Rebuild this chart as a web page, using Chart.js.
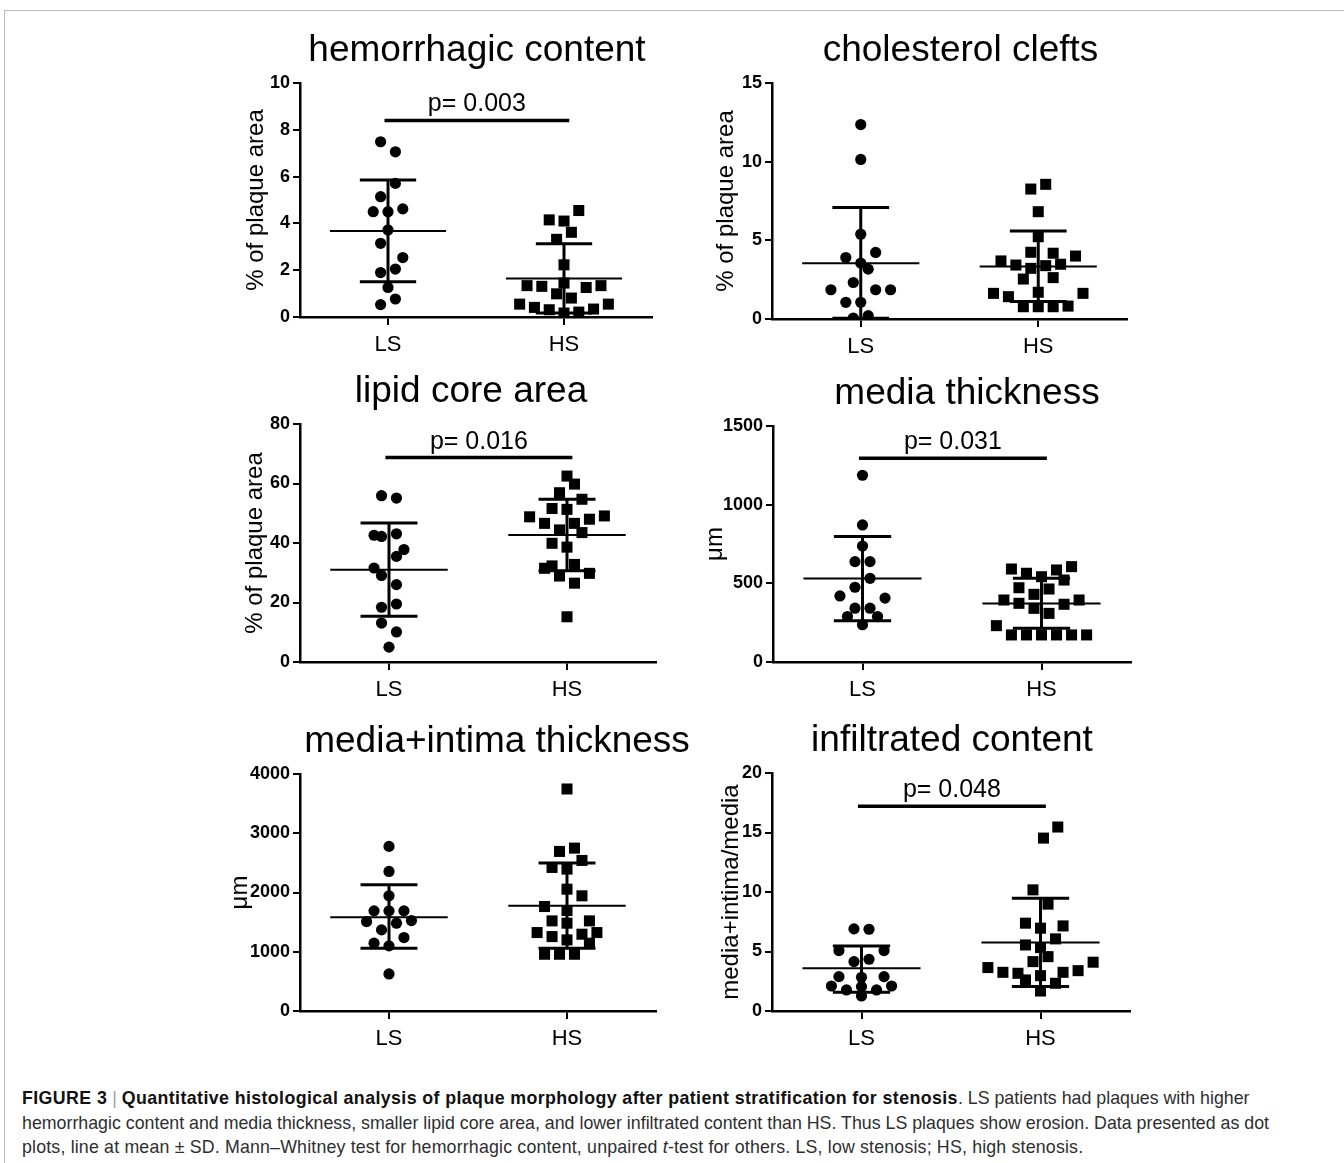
<!DOCTYPE html>
<html>
<head>
<meta charset="utf-8">
<script src="https://cdn.jsdelivr.net/npm/chart.js@4.4.1/dist/chart.umd.min.js"></script>
<style>
  body { margin: 0; background: #fff; width: 1344px; height: 1163px; position: relative; overflow: hidden; font-family: 'Liberation Sans', Arial, sans-serif; }
  .frame { position: absolute; left: 4px; top: 10px; width: 1400px; height: 1200px; border-top: 1px solid #b8b8b8; border-left: 1px solid #b8b8b8; }
  canvas { position: absolute; }
  .caption { position: absolute; left: 22px; top: 1086px; font-size: 17.8px; line-height: 24.5px; color: #2e2e2e; white-space: nowrap; }
  .caption b { color: #111; letter-spacing: 0.4px; }
  .caption .sep { color: #a0a0a0; font-weight: normal; }
  .caption .l3 { letter-spacing: 0.17px; }
</style>
</head>
<body>
<div class="frame"></div>
<canvas id="c0"></canvas>
<canvas id="c1"></canvas>
<canvas id="c2"></canvas>
<canvas id="c3"></canvas>
<canvas id="c4"></canvas>
<canvas id="c5"></canvas>
<div class="caption">
  <b>FIGURE 3</b> <span class="sep">|</span> <b>Quantitative histological analysis of plaque morphology after patient stratification for stenosis</b>. LS patients had plaques with higher<br>
  hemorrhagic content and media thickness, smaller lipid core area, and lower infiltrated content than HS. Thus LS plaques show erosion. Data presented as dot<br>
  <span class="l3">plots, line at mean ± SD. Mann–Whitney test for hemorrhagic content, unpaired <i>t</i>-test for others. LS, low stenosis; HS, high stenosis.</span>
</div>
<script>
const groups = ['LS', 'HS'];
const titles = ['hemorrhagic content', 'cholesterol clefts', 'lipid core area', 'media thickness', 'media+intima thickness', 'infiltrated content'];
const yTitles = ['% of plaque area', '% of plaque area', '% of plaque area', 'μm', 'μm', 'media+intima/media'];
const yMax = [10, 15, 80, 1500, 4000, 20];
const yStep = [2, 5, 20, 500, 1000, 5];

// p-values and the height of the bar they sit on
const pText = ['p= 0.003', null, 'p= 0.016', 'p= 0.031', null, 'p= 0.048'];
const pBarY = [8.4, null, 68.7, 1295, null, 17.2];

// mean and mean +/- SD, [LS, HS]
const means = [[3.68, 1.65], [3.55, 3.34], [31.0, 42.7], [530, 372], [1583, 1775], [3.59, 5.75]];
const sdHigh = [[5.85, 3.13], [7.08, 5.59], [46.7, 54.7], [797, 532], [2130, 2496], [5.47, 9.48]];
const sdLow = [[1.51, 0.17], [0.05, 1.12], [15.4, 30.7], [262, 214], [1059, 1059], [1.57, 2.05]];

// hemorrhagic content
const hemoLS = [7.49, 7.06, 5.71, 5.14, 4.50, 4.50, 4.62, 3.72, 3.15, 2.54, 1.90, 2.05, 1.26, 0.77, 0.53];
const hemoLSCol = [-1, 1, 1, -1, -2, 0, 2, 0, -1, 2, -1, 1, 0, 1, -1];
const hemoHS = [4.55, 4.15, 4.10, 3.32, 3.62, 2.23, 1.34, 1.31, 0.99, 1.45, 1.26, 1.34, 0.81, 0.55, 0.41, 0.31, 0.17, 0.21, 0.34, 0.55];
const hemoHSCol = [2, -2, 0, -1, 1, 0, -5, -3, -1, 0, 3, 5, 1, -6, -4, -2, 0, 2, 4, 6];

// cholesterol clefts
const cholLS = [12.36, 10.14, 5.39, 3.91, 4.23, 3.55, 3.17, 2.32, 1.86, 1.86, 1.86, 1.06, 1.06, 0.06, 0.21];
const cholLSCol = [0, 0, 0, -2, 2, 0, 1, -1, -4, 2, 4, -2, 0, -1, 1];
const cholHS = [8.26, 8.56, 6.82, 5.23, 4.24, 4.18, 4.00, 3.69, 3.43, 3.22, 3.39, 3.48, 2.54, 2.63, 1.70, 1.63, 1.42, 1.63, 0.78, 0.78, 0.78, 0.82];
const cholHSCol = [-1, 1, 0, 0, -1, 2, 5, -5, -3, -1, 1, 3, -2, 2, 0, -6, -4, 6, -2, 0, 2, 4];

// lipid core area
const lipidLS = [55.9, 55.1, 42.6, 42.2, 43.1, 37.8, 35.5, 31.6, 29.1, 26.0, 18.4, 19.5, 13.1, 10.1, 5.0];
const lipidLSCol = [-1, 1, -2, -1, 1, 2, 1, -2, -1, 1, -1, 1, -1, 1, 0];
const lipidHS = [62.5, 59.8, 56.9, 54.7, 51.6, 51.3, 48.8, 49.1, 46.6, 48.0, 46.6, 44.4, 43.5, 39.9, 38.6, 31.5, 32.3, 32.8, 28.9, 29.8, 26.5, 15.2];
const lipidHSCol = [0, 1, -1, 2, -2, 0, -5, 5, -3, 3, 1, -1, 2, -2, 0, -3, -2, 1, -1, 3, 1, 0];

// media thickness
const mediaLS = [1187, 871, 737, 638, 638, 532, 475, 420, 406, 342, 342, 289, 289, 237];
const mediaLSCol = [0, 0, 0, -1, 1, 1, -1, -3, 3, -1, 1, -2, 2, 0];
const mediaHS = [591, 564, 542, 585, 606, 521, 472, 430, 464, 394, 373, 341, 309, 367, 394, 231, 172, 172, 172, 172, 172, 172];
const mediaHSCol = [-4, -2, 0, 2, 4, 3, -3, -1, 1, -5, -3, -1, 1, 3, 5, -6, -4, -2, 0, 2, 4, 6];

// media+intima thickness
const mitLS = [2778, 2355, 1944, 1690, 1690, 1690, 1510, 1527, 1482, 1369, 1240, 1144, 1099, 625];
const mitLSCol = [0, 0, 0, -2, 0, 2, -3, 3, 1, -1, 2, -2, 0, 0];
const mitHS = [3747, 2693, 2749, 2541, 2423, 2395, 2056, 1944, 1763, 1696, 1521, 1482, 1521, 1324, 1256, 1200, 1296, 1324, 1144, 958, 958, 958];
const mitHSCol = [0, -1, 1, 2, -2, 0, 0, 2, -3, 0, -2, 0, 3, -4, -2, 0, 2, 4, 3, -3, -1, 1];

// infiltrated content
const infLS = [6.90, 6.87, 5.08, 5.08, 4.15, 4.35, 2.89, 2.83, 2.89, 2.10, 1.77, 2.05, 1.77, 2.10, 1.26];
const infLSCol = [-1, 1, -3, 3, -1, 1, -3, 0, 3, -4, -2, 0, 2, 4, 0];
const infHS = [15.46, 14.53, 10.18, 8.98, 7.38, 6.96, 7.15, 6.06, 5.55, 5.33, 4.57, 4.15, 4.10, 3.65, 3.25, 3.17, 2.97, 3.25, 3.39, 2.61, 2.33, 1.68];
const infHSCol = [2.3, 0.4, -1, 1, -2, 0, 3, 2, -2, 0, 1, -1, 7, -7, -5, -3, 0, 3, 5, -2, 2, 0];

const lsValues = [hemoLS, cholLS, lipidLS, mediaLS, mitLS, infLS];
const lsCols = [hemoLSCol, cholLSCol, lipidLSCol, mediaLSCol, mitLSCol, infLSCol];
const hsValues = [hemoHS, cholHS, lipidHS, mediaHS, mitHS, infHS];
const hsCols = [hemoHSCol, cholHSCol, lipidHSCol, mediaHSCol, mitHSCol, infHSCol];

// layout: plot area [left, top, width, height] in page px, y title gap, title shift
const plotBox = [[300, 83, 352, 234], [772, 83, 355, 236], [300, 424, 356, 238], [773, 426, 358, 236], [300, 774, 356, 237], [772, 773, 358, 238]];
const yTitleGap = [44, 46, 45, 58, 60, 41];
const titleShift = [1, 11, -7, 15, 19, 1];

const FONT = "'Liberation Sans', Arial, sans-serif";
const JITTER = 0.042;
const MEAN_HALF = 0.33;
const CAP_HALF = 0.16;
const SIG_FROM = 0.98, SIG_TO = 2.03;
const PAD_L = 120, PAD_T = 70, PAD_R = 70, PAD_B = 60, X_AXIS_H = 40;

function seg(points, width) {
    return { type: 'line', data: points, borderColor: '#000', borderWidth: width, pointRadius: 0, fill: false, tension: 0 };
}

function buildDatasets(i) {
    const ds = [];
    [0, 1].forEach(g => {
        const c = g + 1;
        const m = means[i][g], hi = sdHigh[i][g], lo = sdLow[i][g];
        ds.push(seg([{ x: c - MEAN_HALF, y: m }, { x: c + MEAN_HALF, y: m }], 2));
        ds.push(seg([{ x: c, y: lo }, { x: c, y: hi }], 3));
        ds.push(seg([{ x: c - CAP_HALF, y: hi }, { x: c + CAP_HALF, y: hi }], 3));
        ds.push(seg([{ x: c - CAP_HALF, y: lo }, { x: c + CAP_HALF, y: lo }], 3));
    });
    if (pBarY[i] !== null) {
        ds.push(seg([{ x: SIG_FROM, y: pBarY[i] }, { x: SIG_TO, y: pBarY[i] }], 3.5));
    }
    ds.push({
        data: lsValues[i].map((v, k) => ({ x: 1 + lsCols[i][k] * JITTER, y: v })),
        pointStyle: 'circle', pointRadius: 5.6, backgroundColor: '#000', borderWidth: 0
    });
    ds.push({
        data: hsValues[i].map((v, k) => ({ x: 2 + hsCols[i][k] * JITTER, y: v })),
        pointStyle: 'rect', pointRadius: 7.8, backgroundColor: '#000', borderWidth: 0
    });
    return ds;
}

function panelText(i) {
    return {
        id: 'panelText' + i,
        afterDraw(chart) {
            const ctx = chart.ctx;
            const ca = chart.chartArea;
            ctx.save();
            ctx.fillStyle = '#000';
            ctx.textAlign = 'center';
            ctx.textBaseline = 'alphabetic';
            ctx.font = '37px ' + FONT;
            ctx.fillText(titles[i], (ca.left + ca.right) / 2 + titleShift[i], ca.top - 22);
            if (pText[i]) {
                const xs = chart.scales.x, ys = chart.scales.y;
                const px = (xs.getPixelForValue(SIG_FROM) + xs.getPixelForValue(SIG_TO)) / 2;
                const py = ys.getPixelForValue(pBarY[i]) - 9;
                ctx.font = '25px ' + FONT;
                ctx.fillText(pText[i], px, py);
            }
            ctx.restore();
        }
    };
}

titles.forEach((t, i) => {
    const [L, T, W, H] = plotBox[i];
    const yW = yTitleGap[i] + 14.4;
    const canvas = document.getElementById('c' + i);
    canvas.width = W + PAD_L + PAD_R;
    canvas.height = H + PAD_T + PAD_B;
    canvas.style.left = (L - PAD_L) + 'px';
    canvas.style.top = (T - PAD_T) + 'px';

    new Chart(canvas.getContext('2d'), {
        type: 'scatter',
        data: { datasets: buildDatasets(i) },
        options: {
            responsive: false,
            animation: false,
            events: [],
            layout: { padding: { left: PAD_L - yW, top: PAD_T, right: PAD_R, bottom: PAD_B - X_AXIS_H } },
            plugins: { legend: { display: false }, tooltip: { enabled: false } },
            scales: {
                x: {
                    type: 'linear', min: 0.5, max: 2.5,
                    afterBuildTicks: s => { s.ticks = [{ value: 1 }, { value: 2 }]; },
                    afterFit: s => { s.height = X_AXIS_H; },
                    ticks: { callback: v => groups[v - 1], color: '#000', padding: 7, maxRotation: 0, font: { size: 22, family: FONT } },
                    grid: { drawOnChartArea: false, tickLength: 8, color: '#000', lineWidth: 2 },
                    border: { color: '#000', width: 2.5 }
                },
                y: {
                    min: 0, max: yMax[i],
                    afterFit: s => { s.width = yW; },
                    ticks: { stepSize: yStep[i], callback: v => String(v), color: '#000', padding: 3, font: { size: 18, weight: 'bold', family: FONT } },
                    grid: { drawOnChartArea: false, tickLength: 7, color: '#000', lineWidth: 2 },
                    border: { color: '#000', width: 2.5 },
                    title: { display: true, text: yTitles[i], color: '#000', padding: 0, font: { size: 24, family: FONT } }
                }
            }
        },
        plugins: [panelText(i)]
    });
});
</script>
</body>
</html>
